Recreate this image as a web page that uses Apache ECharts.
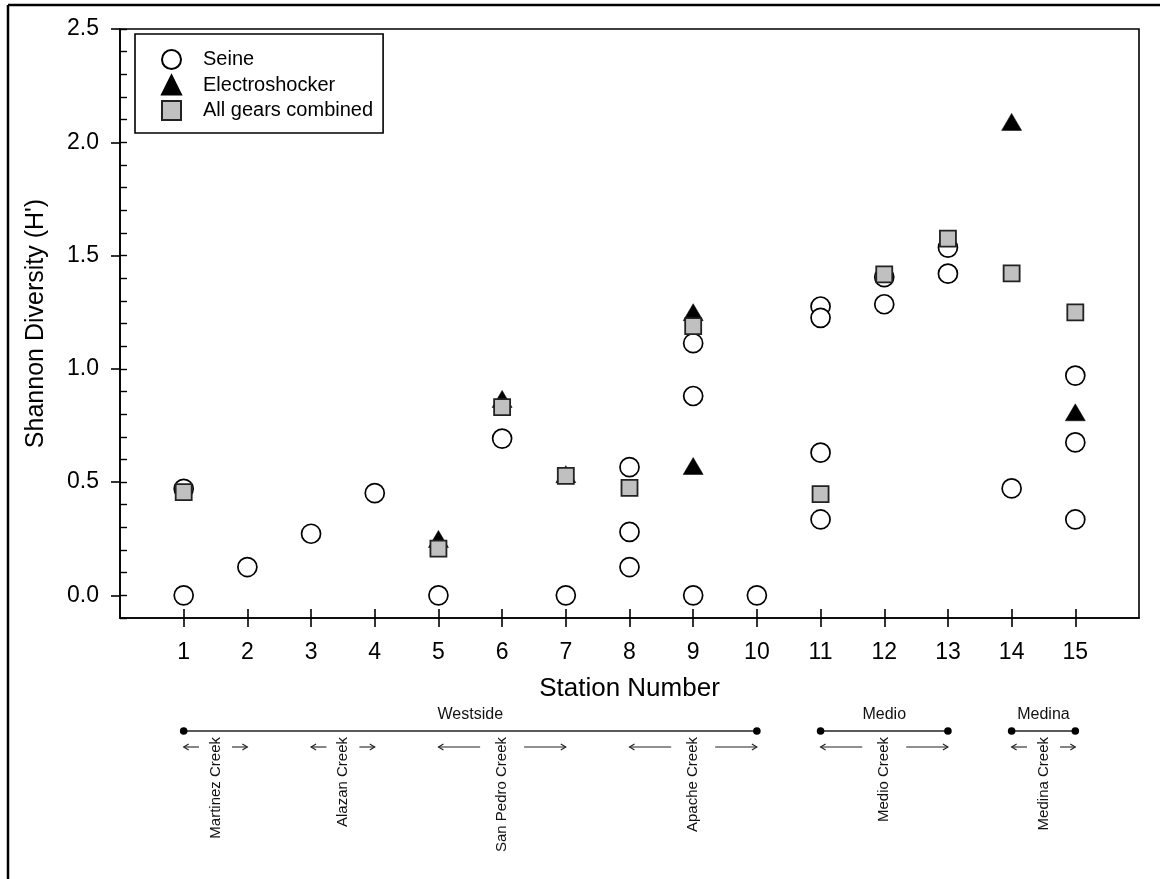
<!DOCTYPE html>
<html>
<head>
<meta charset="utf-8">
<script src="https://cdn.jsdelivr.net/npm/echarts@6/dist/echarts.min.js"></script>
<style>
html,body{margin:0;padding:0;background:#fff;}
#chart{width:1160px;height:879px;}
</style>
</head>
<body>
<div id="chart"></div>
<script>
// ---- data ----
const stationTicks = [1,2,3,4,5,6,7,8,9,10,11,12,13,14,15];
const yTickLabels = [0, 0.5, 1.0, 1.5, 2.0, 2.5];

const seine = [
  [1,0.00],[1,0.47],
  [2,0.125],
  [3,0.272],
  [4,0.451],
  [5,0.00],
  [6,0.692],
  [7,0.00],
  [8,0.566],[8,0.28],[8,0.125],
  [9,1.113],[9,0.88],[9,0.00],
  [10,0.00],
  [11,1.275],[11,1.225],[11,0.63],[11,0.335],
  [12,1.405],[12,1.285],
  [13,1.535],[13,1.42],
  [14,0.472],
  [15,0.97],[15,0.675],[15,0.335]
];
const electroshocker = [
  [5,0.249],[6,0.867],[7,0.535],[9,1.25],[9,0.571],[14,2.09],[15,0.808]
];
const allGears = [
  [1,0.456],[5,0.206],[6,0.831],[7,0.527],[8,0.474],[9,1.188],
  [11,0.447],[12,1.417],[13,1.575],[14,1.421],[15,1.249]
];

const regions = [
  {label:'Westside', from:1, to:10},
  {label:'Medio', from:11, to:13},
  {label:'Medina', from:14, to:15}
];
const creeks = [
  {label:'Martinez Creek', from:1, to:2},
  {label:'Alazan Creek', from:3, to:4},
  {label:'San Pedro Creek', from:5, to:7},
  {label:'Apache Creek', from:8, to:10},
  {label:'Medio Creek', from:11, to:13},
  {label:'Medina Creek', from:14, to:15}
];

// ---- chart ----
const FONT = '"Liberation Sans", Arial, sans-serif';
const chart = echarts.init(document.getElementById('chart'), null, {renderer:'canvas'});

const option = {
  animation: false,
  backgroundColor: '#fff',
  grid: {
    left: 120, top: 29, right: 21, bottom: 261,
    show: true, borderColor: '#000', borderWidth: 1.6, containLabel: false
  },
  legend: {
    data: ['Seine','Electroshocker','All gears combined'],
    orient: 'vertical',
    left: 135, top: 34,
    borderColor: '#000', borderWidth: 1.6,
    padding: [15, 10, 12, 26],
    itemWidth: 19, itemHeight: 19, itemGap: 4.5,
    selectedMode: false,
    textStyle: {fontFamily: FONT, fontSize: 20, color: '#000', lineHeight: 19, padding: [0,0,0,17]}
  },
  xAxis: [
    {
      type: 'value', min: 0, max: 16, gridIndex: 0, position: 'bottom',
      name: 'Station Number', nameLocation: 'middle', nameGap: 58,
      nameTextStyle: {fontFamily: FONT, fontSize: 26, color: '#000'},
      axisLine: {show: true, onZero: false, lineStyle: {color: '#000', width: 1.6}},
      axisTick: {show: true, inside: false, length: 9, customValues: stationTicks, lineStyle: {color: '#000', width: 1.6}},
      axisLabel: {show: true, margin: 23, customValues: stationTicks, fontFamily: FONT, fontSize: 23, color: '#000'},
      splitLine: {show: false}
    },
    {
      type: 'value', min: 0, max: 16, gridIndex: 0, position: 'bottom',
      axisLine: {show: false, onZero: false},
      axisTick: {show: true, inside: true, length: 9, customValues: stationTicks, lineStyle: {color: '#000', width: 1.6}},
      axisLabel: {show: false},
      splitLine: {show: false}
    }
  ],
  yAxis: [
    {
      type: 'value', min: -0.1, max: 2.5, gridIndex: 0, position: 'left',
      name: "Shannon Diversity (H')", nameLocation: 'middle', nameGap: 71,
      nameTextStyle: {fontFamily: FONT, fontSize: 25, color: '#000'},
      axisLine: {show: true, onZero: false, lineStyle: {color: '#000', width: 1.6}},
      axisTick: {show: true, inside: false, length: 9, customValues: yTickLabels, lineStyle: {color: '#000', width: 1.6}},
      axisLabel: {show: true, margin: 21, customValues: yTickLabels, fontFamily: FONT, fontSize: 23, color: '#000',
                  formatter: v => Number(v).toFixed(1)},
      splitLine: {show: false}
    },
    {
      type: 'value', min: -0.1, max: 2.5, interval: 0.1, gridIndex: 0, position: 'left',
      axisLine: {show: false, onZero: false},
      axisTick: {show: true, inside: true, length: 7, lineStyle: {color: '#000', width: 1.4}},
      axisLabel: {show: false},
      splitLine: {show: false}
    }
  ],
  series: [
    {
      name: 'Seine', type: 'scatter', xAxisIndex: 0, yAxisIndex: 0,
      data: seine, symbol: 'circle', symbolSize: 19, symbolKeepAspect: true,
      itemStyle: {color: '#fff', borderColor: '#000', borderWidth: 1.7, opacity: 1},
      emphasis: {disabled: true}
    },
    {
      name: 'Electroshocker', type: 'scatter', xAxisIndex: 0, yAxisIndex: 0,
      data: electroshocker, symbol: 'triangle', symbolSize: [20, 17], symbolKeepAspect: true,
      itemStyle: {color: '#000', borderColor: '#000', borderWidth: 0.5, opacity: 1},
      emphasis: {disabled: true}
    },
    {
      name: 'All gears combined', type: 'scatter', xAxisIndex: 0, yAxisIndex: 0,
      data: allGears, symbol: 'rect', symbolSize: 16, symbolKeepAspect: true,
      itemStyle: {color: '#c0c0c0', borderColor: '#222', borderWidth: 1.8, opacity: 1},
      emphasis: {disabled: true}
    }
  ]
};
chart.setOption(option);

// ---- annotations below the axis (positions derived from station numbers via the axis scale) ----
function px(station) { return chart.convertToPixel({xAxisIndex: 0}, station); }
const LINE_Y = 731, REGION_LABEL_Y = 715, ARROW_Y = 747, CREEK_TOP_Y = 737;
const STROKE = '#222';
const g = [];
// outer figure frame (top and left edges)
g.push({type:'line', shape:{x1:8, y1:5, x2:1160, y2:5}, style:{stroke:'#000', lineWidth:2.5}, silent:true});
g.push({type:'line', shape:{x1:8, y1:5, x2:8, y2:879}, style:{stroke:'#000', lineWidth:2.5}, silent:true});

regions.forEach(r => {
  const a = px(r.from), b = px(r.to);
  g.push({type:'line', shape:{x1:a, y1:LINE_Y, x2:b, y2:LINE_Y}, style:{stroke:STROKE, lineWidth:1.5}, silent:true});
  g.push({type:'circle', shape:{cx:a, cy:LINE_Y, r:3.8}, style:{fill:'#000'}, silent:true});
  g.push({type:'circle', shape:{cx:b, cy:LINE_Y, r:3.8}, style:{fill:'#000'}, silent:true});
  g.push({type:'text', x:(a+b)/2, y:REGION_LABEL_Y, silent:true,
    style:{text:r.label, font:'16px ' + FONT, fill:'#111', align:'center', verticalAlign:'middle',
           textAlign:'center', textVerticalAlign:'middle'}});
});

function arrow(tail, head, y) {
  const d = head > tail ? 1 : -1;
  g.push({type:'line', shape:{x1:tail, y1:y, x2:head, y2:y}, style:{stroke:STROKE, lineWidth:1.1}, silent:true});
  g.push({type:'polyline', shape:{points:[[head - d*5, y-3], [head, y], [head - d*5, y+3]]},
          style:{stroke:STROKE, fill:null, lineWidth:1.1}, silent:true});
}
creeks.forEach(c => {
  const a = px(c.from), b = px(c.to), mid = (a+b)/2;
  const gap = (b - a) < 100 ? 16.5 : 22;
  arrow(mid - gap, a, ARROW_Y);
  arrow(mid + gap, b, ARROW_Y);
  g.push({type:'text', x:mid, y:CREEK_TOP_Y, rotation:Math.PI/2, silent:true,
    style:{text:c.label, font:'15px ' + FONT, fill:'#111', align:'right', verticalAlign:'middle',
           textAlign:'right', textVerticalAlign:'middle'}});
});
chart.setOption({graphic: {elements: g}});
</script>
</body>
</html>
